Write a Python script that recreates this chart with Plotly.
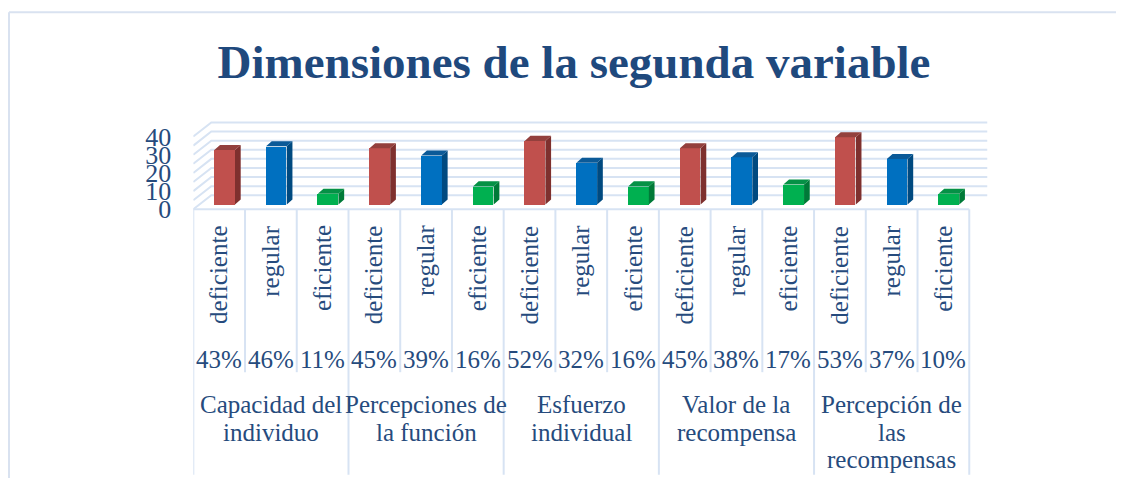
import plotly.graph_objects as go

# the page body adds an 8px margin; the captured picture also comes out a bit
# squeezed vertically (about 483/497), so reference pixels are mapped through
# OFF and SY below
OFF = 8
SY = 483 / 497
W, H = 1124 - 2 * OFF, 481

# data
dimensiones = ["Capacidad del\nindividuo", "Percepciones de\nla función", "Esfuerzo\nindividual",
               "Valor de la\nrecompensa", "Percepción de\nlas\nrecompensas"]
niveles = ["deficiente", "regular", "eficiente"]
deficiente = [30, 31, 35, 31, 37]
regular = [32, 27, 23, 26, 25]
eficiente = [6, 10, 10, 11, 6]
porcentajes = ["43%", "46%", "11%", "45%", "39%", "16%", "52%", "32%", "16%",
               "45%", "38%", "17%", "53%", "37%", "10%"]
y_ticks = [0, 10, 20, 30, 40]
grid_vals = [0, 5, 10, 15, 20, 25, 30, 35, 40]

front = {"deficiente": "#C0504D", "regular": "#0070C0", "eficiente": "#00B050"}
side = {"deficiente": "#7e302e", "regular": "#004a80", "eficiente": "#007a38"}
top = {"deficiente": "#93403d", "regular": "#0b5a98", "eficiente": "#059146"}
text_col = "#264b7d"
grid_col = "#d7e3f3"
FONT = "Liberation Serif"

# pixel geometry of the pseudo-3D box (reference pixels)
X0, SLOT = 193.3, 51.73      # px of x=-0.5, px per category
Y0, YS = 208.0, 1.81         # px of y=0 on front plane, px per unit
back_dx, back_dy = 18 / SLOT, 14 / YS
bar_dx, bar_base = 5.5 / SLOT, 4.7 / YS
bar_w = 20.7 / SLOT
depth_dx, depth_dy = 5.7 / SLOT, 5 / YS


def px_x(p):
    return (p - OFF) / W


def py(p):
    return 1 - (p / SY - OFF) / H


n = len(dimensiones) * len(niveles)
series = {"deficiente": deficiente, "regular": regular, "eficiente": eficiente}

fig = go.Figure()

for k, lvl in enumerate(niveles):
    xs = [3 * g + k + bar_dx for g in range(len(dimensiones))]
    vals = series[lvl]
    fig.add_trace(go.Bar(x=xs, y=vals, base=bar_base, width=bar_w, name=lvl,
                         marker=dict(color=front[lvl], line=dict(width=0)),
                         showlegend=False))
    sx, sy, tx, ty = [], [], [], []
    for x, v in zip(xs, vals):
        xl, xr = x - bar_w / 2, x + bar_w / 2
        b, t = bar_base, bar_base + v
        sx += [xr, xr, xr + depth_dx, xr + depth_dx, xr, None]
        sy += [b, t, t + depth_dy, b + depth_dy, b, None]
        tx += [xl, xr, xr + depth_dx, xl + depth_dx, xl, None]
        ty += [t, t, t + depth_dy, t + depth_dy, t, None]
    fig.add_trace(go.Scatter(x=sx, y=sy, mode="lines", fill="toself", fillcolor=side[lvl],
                             line=dict(width=0, color=side[lvl]), hoverinfo="skip", showlegend=False))
    fig.add_trace(go.Scatter(x=tx, y=ty, mode="lines", fill="toself", fillcolor=top[lvl],
                             line=dict(width=0, color=top[lvl]), hoverinfo="skip", showlegend=False))

shapes = []
# back wall gridlines and left wall lines, below the bars
for v in grid_vals:
    shapes.append(dict(type="path", xref="x", yref="y", layer="below",
                       path=f"M {-0.5},{v} L {-0.5 + back_dx},{v + back_dy} L {n - 0.5 + back_dx},{v + back_dy}",
                       line=dict(color=grid_col, width=2)))

# category table lines
shapes.append(dict(type="line", xref="x", yref="paper", x0=-0.5, x1=n - 0.5,
                   y0=py(Y0), y1=py(Y0), line=dict(color=grid_col, width=2)))
for i in range(n + 1):
    bottom = 472 if i % 3 == 0 else 370
    shapes.append(dict(type="line", xref="x", yref="paper", x0=i - 0.5, x1=i - 0.5,
                       y0=py(Y0), y1=py(bottom), line=dict(color=grid_col, width=2)))
# chart frame
shapes.append(dict(type="line", xref="paper", yref="paper", x0=px_x(9), x1=1, y0=py(12), y1=py(12),
                   line=dict(color="#d9e2f0", width=2)))
shapes.append(dict(type="line", xref="paper", yref="paper", x0=px_x(9), x1=px_x(9), y0=py(12), y1=0,
                   line=dict(color="#d9e2f0", width=2)))

ann = []
for i in range(n):
    ann.append(dict(x=i, xref="x", y=py(222), yref="paper", text=niveles[i % 3], textangle=-90,
                    xanchor="center", yanchor="top", showarrow=False,
                    font=dict(family=FONT, size=25, color=text_col)))
    ann.append(dict(x=i, xref="x", y=py(357), yref="paper", text=porcentajes[i],
                    xanchor="center", yanchor="middle", showarrow=False,
                    font=dict(family=FONT, size=25, color=text_col)))
for g, name in enumerate(dimensiones):
    for j, line in enumerate(name.split("\n")):
        ann.append(dict(x=3 * g + 1, xref="x", y=py(402 + 27.5 * j), yref="paper", text=line,
                        xanchor="center", yanchor="middle", showarrow=False,
                        font=dict(family=FONT, size=25, color=text_col)))

x_right_px = 992
y_bot_px, y_top_px = 212, 118
fig.update_layout(
    width=W, height=H,
    margin=dict(l=0, r=0, t=0, b=0),
    paper_bgcolor="white", plot_bgcolor="white",
    title=dict(text="<b>Dimensiones de la segunda variable</b>", x=px_x(574), xanchor="center",
               y=py(60), yanchor="middle",
               font=dict(family=FONT, size=47, color="#1f497d")),
    xaxis=dict(domain=[px_x(X0), px_x(x_right_px)],
               range=[-0.5, -0.5 + (x_right_px - X0) / SLOT],
               showgrid=False, zeroline=False, showticklabels=False, showline=False),
    yaxis=dict(domain=[py(y_bot_px), py(y_top_px)],
               range=[(Y0 - y_bot_px) / YS, (Y0 - y_top_px) / YS],
               tickvals=y_ticks, showgrid=False, zeroline=False, showline=False,
               ticks="", ticklabelstandoff=21,
               tickfont=dict(family=FONT, size=26, color=text_col)),
    shapes=shapes,
    annotations=ann,
    bargap=0,
    showlegend=False,
)

fig.write_html("out.html")
